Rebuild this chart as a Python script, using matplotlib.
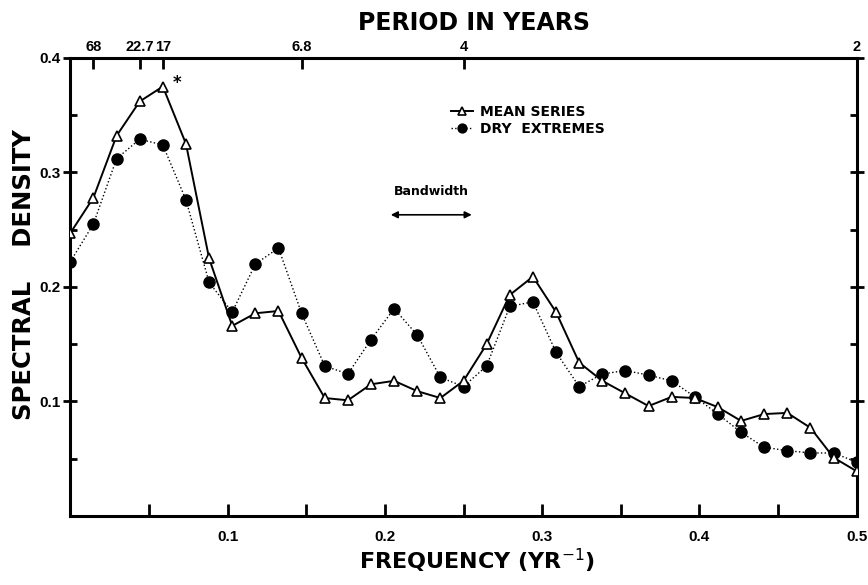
import numpy as np
import matplotlib
matplotlib.use("Agg")
import matplotlib.pyplot as plt
from matplotlib.ticker import FixedLocator

# Frequencies k/68 yr^-1, k = 0..34
harmonic = list(range(35))
n_years = 68

mean_series = [0.247, 0.278, 0.332, 0.362, 0.375, 0.325, 0.225, 0.166, 0.177, 0.179,
               0.138, 0.103, 0.101, 0.115, 0.118, 0.109, 0.103, 0.118, 0.150, 0.193,
               0.209, 0.178, 0.134, 0.118, 0.107, 0.096, 0.104, 0.103, 0.095, 0.083,
               0.089, 0.090, 0.077, 0.051, 0.039]

dry_extremes = [0.222, 0.255, 0.312, 0.329, 0.324, 0.276, 0.204, 0.178, 0.220, 0.234,
                0.177, 0.131, 0.124, 0.154, 0.181, 0.158, 0.121, 0.113, 0.131, 0.183,
                0.187, 0.143, 0.113, 0.124, 0.127, 0.123, 0.118, 0.104, 0.089, 0.073,
                0.060, 0.057, 0.055, 0.055, 0.047]

period_labels = ["68", "22.7", "17", "6.8", "4", "2"]
period_values = [68, 22.7, 17, 6.8, 4, 2]

freq = np.array(harmonic) / n_years

fig = plt.figure(figsize=(8.68, 5.85), dpi=100)
ax = fig.add_axes([0.081, 0.118, 0.906, 0.783])

ax.plot(freq, mean_series, "-", color="black", lw=1.4, marker="^", markersize=7.5,
        markerfacecolor="white", markeredgecolor="black", markeredgewidth=1.2,
        label="MEAN SERIES", zorder=3)
ax.plot(freq, dry_extremes, ":", color="black", lw=1.0, marker="o", markersize=8,
        markerfacecolor="black", markeredgecolor="black",
        label="DRY  EXTREMES", zorder=2)

# asterisk on the peak
ax.text(freq[4] + 0.006, mean_series[4] + 0.003, "*", fontsize=12, fontweight="bold",
        ha="left", va="center")

ax.set_xlim(0, 0.5)
ax.set_ylim(0, 0.4)

tick_font = "Liberation Sans"

# bottom axis
ax.xaxis.set_major_locator(FixedLocator([0.1, 0.2, 0.3, 0.4, 0.5]))
ax.xaxis.set_minor_locator(FixedLocator([0.05, 0.15, 0.25, 0.35, 0.45]))
ax.set_xticklabels(["0.1", "0.2", "0.3", "0.4", "0.5"])
ax.tick_params(axis="x", which="both", direction="in", length=9, width=2,
               labelsize=11, pad=10, top=False)

# left / right axes
ax.yaxis.set_major_locator(FixedLocator([0.1, 0.2, 0.3, 0.4]))
ax.yaxis.set_minor_locator(FixedLocator([0.05, 0.15, 0.25, 0.35]))
ax.set_yticklabels(["0.1", "0.2", "0.3", "0.4"])
ax.tick_params(axis="y", which="major", direction="inout", length=10, width=2,
               labelsize=11, pad=2, right=True)
ax.tick_params(axis="y", which="minor", direction="in", length=5, width=2, right=True)
plt.setp(ax.get_xticklabels() + ax.get_yticklabels(), family=tick_font, weight="bold")

for s in ax.spines.values():
    s.set_linewidth(2.2)

# top axis: period in years
top = ax.secondary_xaxis("top", functions=(lambda f: f, lambda f: f))
top.set_xticks([1.0 / p for p in period_values])
top.set_xticklabels(period_labels)
top.tick_params(direction="in", length=8, width=2, labelsize=10.5, pad=3)
plt.setp(top.get_xticklabels(), family=tick_font, weight="bold")

fig.text(0.546, 0.949, "PERIOD IN YEARS", fontsize=17, fontweight="bold",
         ha="center", va="baseline")

ax.set_xlabel(r"FREQUENCY (YR$^{-1}$)", fontsize=16, fontweight="bold")
ax.xaxis.set_label_coords(0.517, -0.068)
ax.set_ylabel("SPECTRAL    DENSITY", fontsize=17.5, fontweight="bold")
ax.yaxis.set_label_coords(-0.044, 0.526)

# bandwidth marker
ax.annotate("", xy=(0.257, 0.263), xytext=(0.202, 0.263),
            arrowprops=dict(arrowstyle="<|-|>", color="black", lw=1.2, mutation_scale=10))
ax.text(0.2295, 0.278, "Bandwidth", fontsize=9, fontweight="bold", ha="center", va="bottom")

ax.legend(loc="upper left", bbox_to_anchor=(0.468, 0.925), frameon=False,
          handlelength=1.6, handletextpad=0.5, labelspacing=0.2, markerscale=0.8,
          prop={"weight": "bold", "size": 10})

fig.savefig("out.png", dpi=100)
